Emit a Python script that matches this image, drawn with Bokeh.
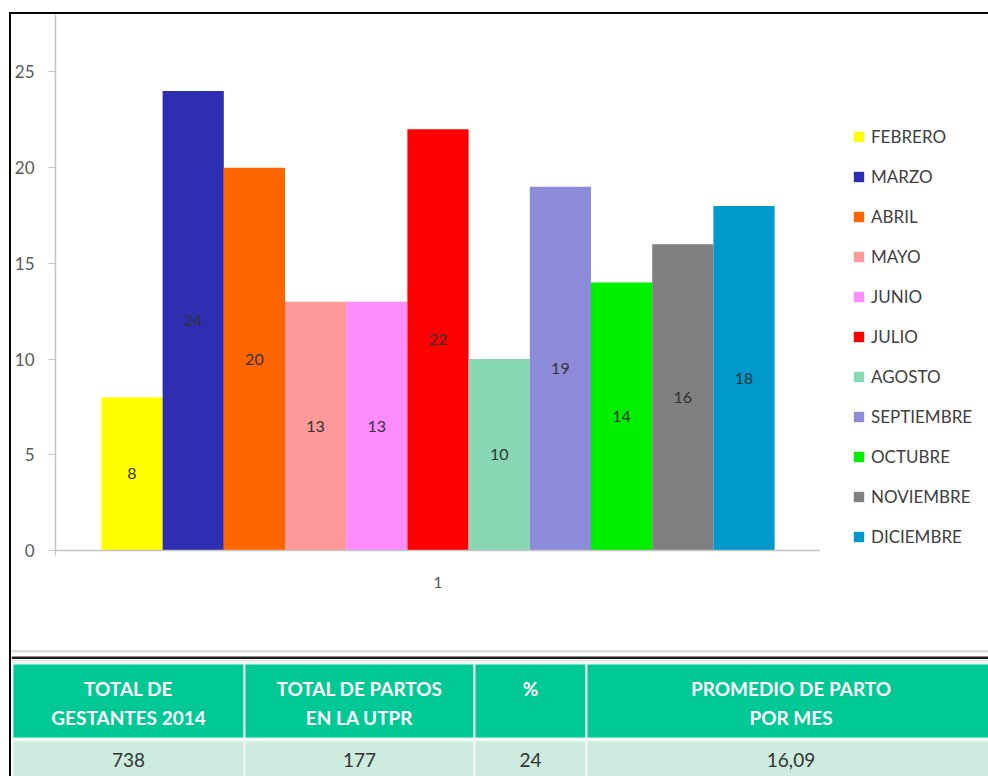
from bokeh.plotting import figure
from bokeh.models import (ColumnDataSource, Range1d, FixedTicker, Legend, LegendItem,
                          Div, Spacer)
from bokeh.layouts import column, row
from bokeh.embed import file_html
from bokeh.resources import INLINE
from bokeh.core.properties import value

# ---------------- data ----------------
months = ["FEBRERO", "MARZO", "ABRIL", "MAYO", "JUNIO", "JULIO", "AGOSTO",
          "SEPTIEMBRE", "OCTUBRE", "NOVIEMBRE", "DICIEMBRE"]
partos = [8, 24, 20, 13, 13, 22, 10, 19, 14, 16, 18]
bar_colors = ["#FFFF00", "#2E2EB2", "#FF6600", "#FF9999", "#FF8CFF", "#FF0000",
              "#88D8B6", "#8C8CDB", "#00F000", "#808080", "#0099CC"]
category_label = "1"
y_ticks = [0, 5, 10, 15, 20, 25]

header_line1 = ["TOTAL DE", "TOTAL DE PARTOS", "%", "PROMEDIO DE PARTO"]
header_line2 = ["GESTANTES 2014", "EN LA UTPR", "", "POR MES"]
table_values = ["738", "177", "24", "16,09"]

FONT = "Lato"
W = 988
LEFT = 11          # x where content starts (after the black frame line)
CH = 631           # chart canvas height (y 14..645)
TH = 131           # table canvas height (y 645..776)
FRAME_R = 820      # right edge of the plot frame
BOT = 95           # space below the plot frame


def no_frame_align(fig):
    if "frame_align" in fig.properties():
        fig.frame_align = False


def black_box(w, h):
    return Div(width=w, height=h, margin=0, styles={"background-color": "black"})


# ---------------- chart ----------------
n = len(months)
xpos = [i - (n - 1) / 2 for i in range(n)]
half = n / 2 + 0.75
src = ColumnDataSource(dict(x=xpos, top=partos, color=bar_colors,
                            ymid=[v / 2 for v in partos],
                            lab=[str(v) for v in partos], month=months))

p = figure(width=FRAME_R - LEFT, height=CH, x_range=Range1d(-half, half),
           y_range=Range1d(0, 28), output_backend="svg", toolbar_location=None,
           min_border_left=54 - LEFT, min_border_right=0, min_border_top=0,
           min_border_bottom=BOT, margin=0)
no_frame_align(p)
p.background_fill_color = "white"
p.border_fill_color = "white"
p.outline_line_color = None
p.xgrid.visible = False
p.ygrid.visible = False

r = p.vbar(x="x", top="top", width=1.0, bottom=0, source=src,
           fill_color="color", line_color=None)
p.text(x="x", y="ymid", text="lab", source=src, text_align="center",
       text_baseline="middle", text_font=value(FONT), text_font_size="16px",
       text_color="#333333")

p.yaxis.ticker = FixedTicker(ticks=y_ticks)
p.yaxis.minor_tick_line_color = None
p.yaxis.major_tick_in = 0
p.yaxis.major_tick_out = 7
p.yaxis.major_label_standoff = 14
p.yaxis.axis_line_color = "#C4C4C4"
p.yaxis.axis_line_width = 1.5
p.yaxis.major_tick_line_color = "#C4C4C4"
p.yaxis.major_label_text_font = FONT
p.yaxis.major_label_text_font_size = "17px"
p.yaxis.major_label_text_color = "#595959"

p.xaxis.ticker = FixedTicker(ticks=[0], minor_ticks=[-half, half])
p.xaxis.major_label_overrides = {0: category_label}
p.xaxis.major_tick_in = 0
p.xaxis.major_tick_out = 0
p.xaxis.minor_tick_in = 0
p.xaxis.minor_tick_out = 6
p.xaxis.minor_tick_line_color = "#C4C4C4"
p.xaxis.major_label_standoff = 20
p.xaxis.axis_line_color = "#C4C4C4"
p.xaxis.axis_line_width = 1.5
p.xaxis.major_label_text_font = FONT
p.xaxis.major_label_text_font_size = "16px"
p.xaxis.major_label_text_color = "#595959"

# ---------------- legend panel (same frame height as the chart) ----------------
lg = figure(width=W - FRAME_R, height=CH, x_range=Range1d(-half, half),
            y_range=Range1d(1000, 1028), output_backend="svg", toolbar_location=None,
            min_border_left=0, min_border_right=0, min_border_top=0,
            min_border_bottom=BOT, x_axis_type=None, y_axis_type=None, margin=0)
no_frame_align(lg)
lg.outline_line_color = None
lg.background_fill_color = "white"
lg.border_fill_color = "white"
# zero-width, out-of-view bars: they only supply the legend swatches
lr = lg.vbar(x="x", top="top", width=0.0, bottom=0, source=src,
             fill_color="color", line_color=None)
items = [LegendItem(label=m, renderers=[lr], index=i) for i, m in enumerate(months)]
legend = Legend(items=items, location=(32, 3), padding=0, margin=0, spacing=19,
                label_height=20, glyph_height=13, glyph_width=13, label_standoff=6,
                label_text_font=FONT, label_text_font_size="17px",
                label_text_color="#404040", border_line_color=None,
                background_fill_alpha=0)
lg.add_layout(legend)

# ---------------- table ----------------
t = figure(width=W - LEFT, height=TH, x_range=Range1d(LEFT, W), y_range=Range1d(776, 645),
           output_backend="svg", toolbar_location=None, min_border=0,
           x_axis_type=None, y_axis_type=None, margin=0)
no_frame_align(t)
t.outline_line_color = None
t.background_fill_color = "white"
t.border_fill_color = "white"

t.quad(left=[LEFT], right=[W], top=[649.5], bottom=[652], fill_color="#DADADA", line_color=None)
t.quad(left=[LEFT], right=[W], top=[656], bottom=[658.5], fill_color="#1E1E1E", line_color=None)
t.quad(left=[LEFT], right=[W], top=[659], bottom=[661], fill_color="#E2E2E2", line_color=None)

col_edges = [12, 244, 474, 586, 995]
lefts = col_edges[:-1]
rights = col_edges[1:]
centers = [(a + b) / 2 for a, b in zip(lefts, rights)]
t.quad(left=lefts, right=rights, top=[663] * 4, bottom=[738] * 4,
       fill_color="#00C996", line_color="#E6F7F0", line_width=2)
t.quad(left=lefts, right=rights, top=[740] * 4, bottom=[780] * 4,
       fill_color="#CDEBDF", line_color="#EEF8F4", line_width=2)

t.text(x=centers, y=[688] * 4, text=header_line1, text_align="center",
       text_baseline="middle", text_font=value(FONT), text_font_style="bold",
       text_font_size="19px", text_color="white")
t.text(x=centers, y=[717] * 4, text=header_line2, text_align="center",
       text_baseline="middle", text_font=value(FONT), text_font_style="bold",
       text_font_size="19px", text_color="white")
t.text(x=centers, y=[759] * 4, text=table_values, text_align="center",
       text_baseline="middle", text_font=value(FONT), text_font_size="19px",
       text_color="#333333")

# ---------------- page ----------------
page = column(
    Spacer(width=W, height=12, margin=0),
    row(Spacer(width=9, height=2, margin=0), black_box(W - 9, 2), spacing=0, margin=0),
    row(Spacer(width=9, height=CH, margin=0), black_box(2, CH), p, lg, spacing=0, margin=0),
    row(Spacer(width=9, height=TH, margin=0), black_box(2, TH), t, spacing=0, margin=0),
    spacing=0, margin=0,
)
open("out.html", "w").write(file_html(page, INLINE))
